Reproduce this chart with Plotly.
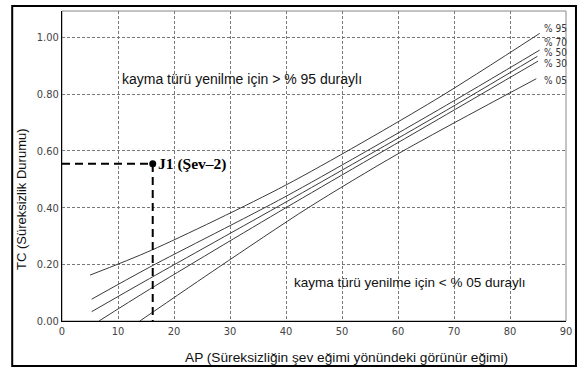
import plotly.graph_objects as go

# Probability curves: apparent dip AP (deg) vs discontinuity condition TC
ap_95 = [5.0, 16.0, 40.0, 66.6, 85.3]
tc_95 = [0.162, 0.250, 0.480, 0.780, 1.015]

ap_70 = [5.3, 15.65, 40.0, 67.2, 85.3]
tc_70 = [0.077, 0.190, 0.440, 0.745, 0.956]

ap_50 = [5.3, 15.65, 40.0, 67.2, 84.9]
tc_50 = [0.033, 0.150, 0.420, 0.727, 0.934]

ap_30 = [6.6, 15.65, 40.0, 67.2, 85.0]
tc_30 = [0.000, 0.112, 0.400, 0.712, 0.917]

ap_05 = [13.9, 28.0, 44.0, 60.0, 84.7]
tc_05 = [0.000, 0.190, 0.400, 0.590, 0.855]

curve_labels = ["% 95", "% 70", "% 50", "% 30", "% 05"]
label_tc = [1.034, 0.984, 0.947, 0.910, 0.847]

# Joint J1 on slope 2
j1_ap = 16.2
j1_tc = 0.555
j1_label = "J1 (Şev–2)"

x_ticks = [0, 10, 20, 30, 40, 50, 60, 70, 80, 90]
y_ticks = [0.0, 0.2, 0.4, 0.6, 0.8, 1.0]
y_tick_text = ["0.00", "0.20", "0.40", "0.60", "0.80", "1.00"]

fig = go.Figure()

curves = [(ap_95, tc_95), (ap_70, tc_70), (ap_50, tc_50), (ap_30, tc_30), (ap_05, tc_05)]
for (xs, ys), name in zip(curves, curve_labels):
    fig.add_trace(go.Scatter(
        x=xs, y=ys, mode="lines", name=name,
        line=dict(color="#3a3a3a", width=1, shape="spline", smoothing=0.8),
        hoverinfo="skip", showlegend=False,
    ))

# Dashed guides from the axes to J1
fig.add_trace(go.Scatter(
    x=[0, j1_ap, j1_ap], y=[j1_tc, j1_tc, 0], mode="lines",
    line=dict(color="black", width=2, dash="8px,5px"),
    hoverinfo="skip", showlegend=False,
))
fig.add_trace(go.Scatter(
    x=[j1_ap], y=[j1_tc], mode="markers",
    marker=dict(color="black", size=7),
    hoverinfo="skip", showlegend=False,
))

narrow = "Liberation Sans Narrow, DejaVu Sans Condensed, Arial Narrow, sans-serif"
sans = "Liberation Sans, Arial, sans-serif"

annotations = []
for name, ty in zip(curve_labels, label_tc):
    annotations.append(dict(
        x=85.8, y=ty, xref="x", yref="y", text=name, showarrow=False,
        xanchor="left", yanchor="middle",
        font=dict(family=narrow, size=10, color="#333"),
    ))

annotations += [
    dict(x=j1_ap, y=j1_tc, xref="x", yref="y", text="<b>" + j1_label + "</b>",
         showarrow=False, xanchor="left", yanchor="middle", xshift=3,
         font=dict(family="Liberation Serif, Times New Roman, serif", size=15.5, color="black")),
    dict(x=10.3, y=0.855, xref="x", yref="y",
         text="kayma türü yenilme için > % 95 duraylı", showarrow=False,
         xanchor="left", yanchor="middle",
         font=dict(family=sans, size=14, color="#111")),
    dict(x=41.0, y=0.135, xref="x", yref="y",
         text="kayma türü yenilme için < % 05 duraylı", showarrow=False,
         xanchor="left", yanchor="middle",
         font=dict(family=sans, size=13.5, color="#111")),
    dict(x=-0.079, y=0.394, xref="paper", yref="paper",
         text="TC (Süreksizlik Durumu)", showarrow=False, textangle=-90,
         xanchor="center", yanchor="middle",
         font=dict(family=sans, size=13, color="#111")),
    dict(x=0.565, y=-0.119, xref="paper", yref="paper",
         text="AP (Süreksizliğin şev eğimi yönündeki görünür eğimi)", showarrow=False,
         xanchor="center", yanchor="middle",
         font=dict(family=sans, size=13.7, color="#111")),
]

shapes = [
    # plot frame (top/right edges are grey)
    dict(type="rect", xref="paper", yref="paper", x0=0, x1=1, y0=0, y1=1,
         line=dict(color="#888", width=1), layer="below"),
    # outer frame around the whole figure
    dict(type="rect", xref="paper", yref="paper",
         x0=-0.0988, x1=1.0198, y0=-0.145, y1=1.016,
         line=dict(color="black", width=2)),
]

fig.update_layout(
    width=583, height=369,
    margin=dict(l=62, r=15, t=11, b=48),
    paper_bgcolor="white", plot_bgcolor="white",
    annotations=annotations, shapes=shapes,
    xaxis=dict(
        range=[0, 90], tickvals=x_ticks, ticktext=[str(v) for v in x_ticks],
        showgrid=True, gridcolor="#777", griddash="3px,2px", gridwidth=1,
        showline=True, linecolor="black", linewidth=1,
        ticks="", zeroline=False,
        tickfont=dict(family=narrow, size=11, color="#444"),
    ),
    yaxis=dict(
        range=[0, 1.094], tickvals=y_ticks, ticktext=y_tick_text,
        showgrid=True, gridcolor="#777", griddash="3px,2px", gridwidth=1,
        showline=True, linecolor="black", linewidth=1,
        ticks="", zeroline=False,
        tickfont=dict(family=narrow, size=11, color="#444"),
    ),
)

fig.write_html("out.html")
